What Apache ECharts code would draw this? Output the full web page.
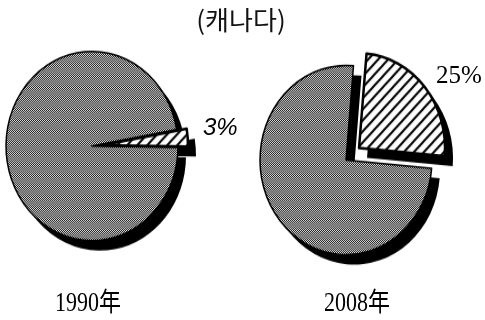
<!DOCTYPE html>
<html>
<head>
<meta charset="utf-8">
<script src="https://cdn.jsdelivr.net/npm/echarts@6/dist/echarts.min.js"></script>
<style>
  html, body { margin: 0; padding: 0; background: #fff; }
  #wrap { position: relative; width: 485px; height: 320px; overflow: hidden; background: #fff; }
  /* the pies are drawn as slightly tall ellipses */
  #pies { position: absolute; left: 0; top: 0; width: 485px; height: 291px;
          transform: scaleY(1.1); transform-origin: 0 0; }
  #text { position: absolute; left: 0; top: 0; width: 485px; height: 320px; }
</style>
</head>
<body>
<div id="wrap">
  <div id="pies"></div>
  <div id="text"></div>
</div>
<script>
// Chart text and values
const chartTitle = '(캐나다)';
const years = ['1990年', '2008年'];
const sliceNames = ['기타', '캐나다'];
const share1990 = [97, 3];
const share2008 = [75, 25];

const STRETCH = 1.1; // vertical stretch of the pie layer (matches the CSS above)

// Fine black/white stipple for the large slice
function makeStipple() {
  const c = document.createElement('canvas');
  c.width = 2; c.height = 2;
  const g = c.getContext('2d');
  g.fillStyle = '#dcdcdc';
  g.fillRect(0, 0, 2, 2);
  g.fillStyle = '#1e1e1e';
  g.fillRect(0, 0, 1, 1);
  g.fillRect(1, 1, 1, 1);
  return c;
}

// Diagonal "/" hatching on white for the highlighted slice
function makeHatch() {
  const s = 10;
  const c = document.createElement('canvas');
  c.width = s; c.height = s;
  const g = c.getContext('2d');
  g.fillStyle = '#fff';
  g.fillRect(0, 0, s, s);
  g.strokeStyle = '#000';
  g.lineWidth = 2;
  g.beginPath();
  g.moveTo(0, s); g.lineTo(s, 0);
  g.moveTo(-s / 2, s / 2); g.lineTo(s / 2, -s / 2);
  g.moveTo(s / 2, s * 1.5); g.lineTo(s * 1.5, s / 2);
  g.stroke();
  return c;
}

const stipple = { image: makeStipple(), repeat: 'repeat' };
const hatch = { image: makeHatch(), repeat: 'repeat' };

const SHADOW_DX = 8, SHADOW_DY = 10 / STRETCH;

// One pie; with asShadow it is a solid black copy shifted down-right
function pieSeries(values, center, startAngle, offset, asShadow) {
  const c = asShadow ? [center[0] + SHADOW_DX, center[1] + SHADOW_DY] : center;
  return {
    type: 'pie',
    center: c,
    radius: 86,
    startAngle: startAngle,
    clockwise: false,
    silent: true,
    selectedMode: 'single',
    selectedOffset: offset,
    emphasis: { disabled: true },
    label: { show: false },
    labelLine: { show: false },
    itemStyle: asShadow
      ? { color: '#000', borderWidth: 0 }
      : { borderColor: '#000', borderWidth: 1.5 },
    data: values.map(function (v, i) {
      const item = { value: v, name: sliceNames[i] };
      if (i === 0) {
        if (!asShadow) item.itemStyle = { color: stipple };
        return item;
      }
      item.selected = true;
      if (!asShadow) item.itemStyle = { color: hatch, borderWidth: 2.5 };
      return item;
    })
  };
}

const left = { values: share1990, center: [92, 146 / STRETCH], start: 10, offset: 10 };
const right = { values: share2008, center: [346, 160 / STRETCH], start: 85, offset: 17 };

const pies = echarts.init(document.getElementById('pies'), null, { renderer: 'canvas' });
pies.setOption({
  animation: false,
  series: [
    pieSeries(left.values, left.center, left.start, left.offset, true),
    pieSeries(right.values, right.center, right.start, right.offset, true),
    pieSeries(left.values, left.center, left.start, left.offset, false),
    pieSeries(right.values, right.center, right.start, right.offset, false)
  ]
});

// Title, year captions and share labels on an unstretched layer
const text = echarts.init(document.getElementById('text'), null, { renderer: 'canvas' });
text.setOption({
  animation: false,
  graphic: [
    {
      type: 'text', x: 241, y: 20,
      style: {
        text: chartTitle, fill: '#111',
        font: '26px "Noto Sans CJK KR"',
        textAlign: 'center', textVerticalAlign: 'middle'
      }
    },
    {
      type: 'text', x: 88, y: 304, scaleY: 1.2,
      style: {
        text: years[0], fill: '#000',
        font: '22px "Liberation Serif", "Noto Sans CJK JP"',
        textAlign: 'center', textVerticalAlign: 'middle'
      }
    },
    {
      type: 'text', x: 357, y: 304, scaleY: 1.2,
      style: {
        text: years[1], fill: '#000',
        font: '22px "Liberation Serif", "Noto Sans CJK JP"',
        textAlign: 'center', textVerticalAlign: 'middle'
      }
    },
    {
      type: 'text', x: 203, y: 128,
      style: {
        text: share1990[1] + '%', fill: '#000',
        font: 'italic 24px "Liberation Sans"',
        textAlign: 'left', textVerticalAlign: 'middle'
      }
    },
    {
      type: 'text', x: 436, y: 76,
      style: {
        text: share2008[1] + '%', fill: '#000',
        font: '25px "Liberation Serif"',
        textAlign: 'left', textVerticalAlign: 'middle'
      }
    }
  ]
});
</script>
</body>
</html>
